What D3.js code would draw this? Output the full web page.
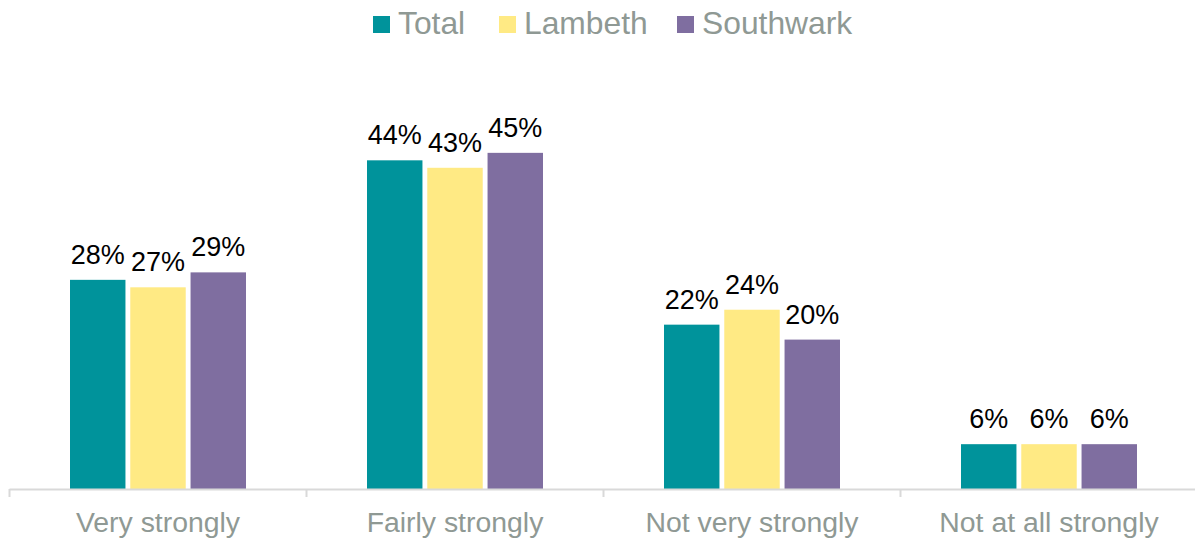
<!DOCTYPE html>
<html>
<head>
<meta charset="utf-8">
<script src="https://cdn.jsdelivr.net/npm/d3@7"></script>
<style>
  html, body { margin: 0; padding: 0; background: #ffffff; }
  svg { display: block; font-family: "Liberation Sans", Arial, sans-serif; }
</style>
</head>
<body>
<svg id="chart" width="1195" height="541"></svg>
<script>
// Strength of feeling, share of respondents by area
const categories = ["Very strongly", "Fairly strongly", "Not very strongly", "Not at all strongly"];
const seriesNames = ["Total", "Lambeth", "Southwark"];
const totalValues = [28, 44, 22, 6];
const lambethValues = [27, 43, 24, 6];
const southwarkValues = [29, 45, 20, 6];
const seriesColors = ["#00939B", "#FFEA84", "#7F6EA0"];

const seriesValues = [totalValues, lambethValues, southwarkValues];
const rows = categories.map((c, i) => ({
  category: c,
  values: seriesNames.map((s, j) => ({ series: s, value: seriesValues[j][i], color: seriesColors[j] }))
}));

const svg = d3.select("#chart");
const baseY = 489;
const axisLeft = 9.5, bandRight = 1197.5, axisRight = 1195;

const x = d3.scaleBand().domain(categories).range([axisLeft, bandRight]).padding(0);
const groupPad = 60.5;
const xSub = d3.scaleBand().domain(seriesNames)
  .range([groupPad, x.bandwidth() - groupPad])
  .paddingInner(0.08).paddingOuter(0);
const y = d3.scaleLinear().domain([0, 50]).range([baseY, baseY - 50 * 7.47]);

// Bars
const groups = svg.append("g").selectAll("g").data(rows).join("g")
  .attr("transform", d => `translate(${x(d.category)},0)`);

groups.selectAll("rect").data(d => d.values).join("rect")
  .attr("x", d => xSub(d.series))
  .attr("y", d => y(d.value))
  .attr("width", xSub.bandwidth())
  .attr("height", d => y(0) - y(d.value))
  .attr("fill", d => d.color);

// Value labels
groups.selectAll("text.val").data(d => d.values).join("text")
  .attr("class", "val")
  .attr("x", d => xSub(d.series) + xSub.bandwidth() / 2)
  .attr("y", d => y(d.value) - 16)
  .attr("text-anchor", "middle")
  .attr("font-size", 27)
  .attr("fill", "#000000")
  .text(d => d.value + "%");

// Category axis
const axis = svg.append("g").attr("transform", `translate(0,${baseY})`);
axis.append("line")
  .attr("x1", axisLeft).attr("x2", axisRight)
  .attr("y1", 0.5).attr("y2", 0.5)
  .attr("stroke", "#d9d9d9").attr("stroke-width", 2);
const tickXs = categories.map(c => x(c));
axis.selectAll("line.tick").data(tickXs).join("line")
  .attr("class", "tick")
  .attr("x1", d => d).attr("x2", d => d)
  .attr("y1", 0).attr("y2", 8)
  .attr("stroke", "#d9d9d9").attr("stroke-width", 2);
axis.selectAll("text").data(categories).join("text")
  .attr("x", d => x(d) + x.bandwidth() / 2)
  .attr("y", 43)
  .attr("text-anchor", "middle")
  .attr("font-size", 28.4)
  .attr("fill", "#8f9994")
  .text(d => d);

// Legend
const legendItems = [
  { name: seriesNames[0], color: seriesColors[0], x: 373 },
  { name: seriesNames[1], color: seriesColors[1], x: 499 },
  { name: seriesNames[2], color: seriesColors[2], x: 677 }
];
const legend = svg.append("g").selectAll("g").data(legendItems).join("g")
  .attr("transform", d => `translate(${d.x},0)`);
legend.append("rect")
  .attr("x", 0).attr("y", 16).attr("width", 17).attr("height", 17)
  .attr("fill", d => d.color);
legend.append("text")
  .attr("x", 25).attr("y", 33.5)
  .attr("font-size", 31.8)
  .attr("fill", "#8f9994")
  .text(d => d.name);
</script>
</body>
</html>
